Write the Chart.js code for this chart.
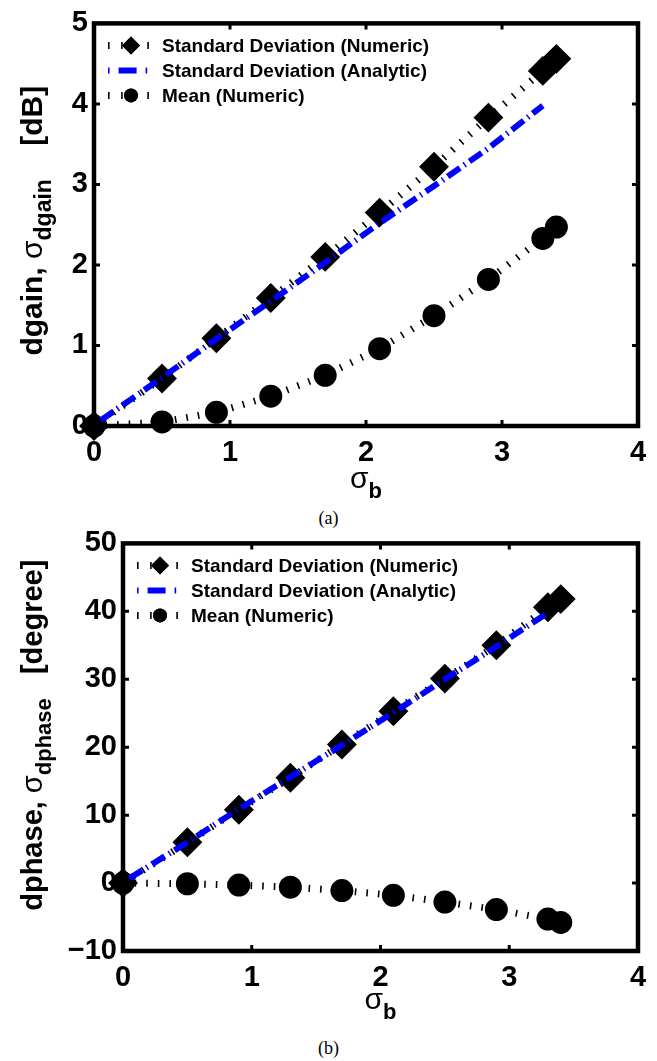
<!DOCTYPE html>
<html>
<head>
<meta charset="utf-8">
<script src="https://cdn.jsdelivr.net/npm/chart.js@4.4.1/dist/chart.umd.min.js"></script>
<style>
  body { margin: 0; background: #fff; width: 657px; height: 1061px; position: relative; overflow: hidden; }
  .panel { position: absolute; left: 0; width: 657px; height: 505px; }
  .cap { position: absolute; left: 0; width: 657px; text-align: center;
         font-family: "Liberation Serif", "Times New Roman", serif; font-size: 18px; line-height: 20px; }
</style>
</head>
<body>
<div class="panel" style="top:0"><canvas id="gainChart"></canvas></div>
<div class="cap" style="top:508px">(a)</div>
<div class="panel" style="top:520px"><canvas id="phaseChart"></canvas></div>
<div class="cap" style="top:1038px">(b)</div>
<script>
// sigma_b sample points
const sigmaB = [0, 0.5, 0.9, 1.3, 1.7, 2.1, 2.5, 2.9, 3.3, 3.4];
const sigmaBAnalytic = [0.05, 0.5, 0.9, 1.3, 1.7, 2.1, 2.5, 2.9, 3.3];

// (a) gain [dB]
const gainStdNumeric = [0, 0.59, 1.09, 1.59, 2.1, 2.65, 3.22, 3.83, 4.41, 4.56];
const gainStdAnalytic = [0.07, 0.6, 1.08, 1.55, 2.03, 2.52, 2.98, 3.45, 3.98];
const gainMean = [0, 0.05, 0.17, 0.37, 0.63, 0.96, 1.37, 1.82, 2.33, 2.47];

// (b) phase [degree]
const phaseStdNumeric = [0, 6.0, 10.8, 15.5, 20.4, 25.3, 30.1, 35.0, 40.6, 41.8];
const phaseStdAnalytic = [0.7, 6.0, 10.9, 15.6, 20.3, 25.1, 30.0, 34.8, 39.8];
const phaseMean = [0, -0.1, -0.3, -0.6, -1.1, -1.8, -2.8, -3.9, -5.3, -5.8];

const seriesLabels = ['Standard Deviation (Numeric)', 'Standard Deviation (Analytic)', 'Mean (Numeric)'];
const xTicks = [0, 1, 2, 3, 4];

const FONT = '"Liberation Sans", Arial, Helvetica, sans-serif';

function pts(xs, ys) {
  return xs.map((x, i) => ({ x: x, y: ys[i] }));
}

// frame, inner ticks, legend and axis titles, MATLAB style
const matlabLook = {
  id: 'matlabLook',
  beforeDatasetsDraw(chart) {
    const { ctx, chartArea: a, scales } = chart;
    ctx.save();
    ctx.strokeStyle = '#000';
    ctx.lineWidth = 3;
    scales.x.ticks.forEach(t => {
      const px = scales.x.getPixelForValue(t.value);
      ctx.beginPath();
      ctx.moveTo(px, a.bottom); ctx.lineTo(px, a.bottom - 6);
      ctx.moveTo(px, a.top); ctx.lineTo(px, a.top + 6);
      ctx.stroke();
    });
    scales.y.ticks.forEach(t => {
      const py = scales.y.getPixelForValue(t.value);
      ctx.beginPath();
      ctx.moveTo(a.left, py); ctx.lineTo(a.left + 6, py);
      ctx.moveTo(a.right, py); ctx.lineTo(a.right - 6, py);
      ctx.stroke();
    });
    ctx.lineWidth = 4.5;
    ctx.strokeRect(a.left, a.top, a.right - a.left, a.bottom - a.top);
    ctx.restore();
  },
  afterDraw(chart, args, opts) {
    const { ctx, chartArea: a } = chart;
    ctx.save();
    // legend
    chart.data.datasets.forEach((ds, i) => {
      const y = a.top + 22 + i * 25;
      const x0 = a.left + 14, x1 = a.left + 56, xm = a.left + 37;
      ctx.strokeStyle = ds.borderColor;
      ctx.lineWidth = ds.legendWidth;
      ctx.setLineDash(ds.legendDash);
      ctx.beginPath(); ctx.moveTo(x0, y); ctx.lineTo(x1, y); ctx.stroke();
      ctx.setLineDash([]);
      if (ds.pointRadius > 0) {
        ctx.fillStyle = '#000';
        Chart.helpers.drawPoint(ctx, { pointStyle: ds.pointStyle, radius: ds.pointRadius - 1, rotation: 0 }, xm, y);
        ctx.fill();
      }
      ctx.fillStyle = '#000';
      ctx.font = 'bold 19px ' + FONT;
      ctx.textBaseline = 'middle';
      ctx.textAlign = 'left';
      ctx.fillText(ds.label, a.left + 68, y + 1);
    });

    // y title with subscript
    const parts = opts.yTitle;
    ctx.translate(opts.yTitleX, (a.top + a.bottom) / 2 + opts.yTitleShift);
    ctx.rotate(-Math.PI / 2);
    let total = 0;
    parts.forEach(p => { ctx.font = p.f + ' ' + FONT; p.w = ctx.measureText(p.t).width; total += p.w; });
    let cx = -total / 2;
    ctx.textAlign = 'left';
    ctx.textBaseline = 'alphabetic';
    parts.forEach(p => {
      ctx.font = p.f + ' ' + FONT;
      ctx.fillText(p.t, cx, p.dy);
      cx += p.w;
    });
    ctx.setTransform(1, 0, 0, 1, 0, 0);

    // x title sigma_b
    const mid = (a.left + a.right) / 2;
    ctx.font = '30px ' + FONT;
    const sw = ctx.measureText('σ').width;
    ctx.font = 'bold 22px ' + FONT;
    const bw = ctx.measureText('b').width;
    const sx = mid - (sw + bw) / 2;
    ctx.font = '30px ' + FONT;
    ctx.fillText('σ', sx, opts.xTitleY);
    ctx.font = 'bold 22px ' + FONT;
    ctx.fillText('b', sx + sw, opts.xTitleY + 10);
    ctx.restore();
  }
};

function makeChart(id, stdNum, stdAna, mean, yMin, yMax, yStep, padTop, xHeight, titleOpts) {
  const ctx = document.getElementById(id).getContext('2d');
  return new Chart(ctx, {
    type: 'line',
    data: {
      datasets: [{
        label: seriesLabels[0],
        data: pts(sigmaB, stdNum),
        borderColor: '#000',
        backgroundColor: '#000',
        borderWidth: 7,
        borderDash: [1.6, 10],
        legendDash: [1.6, 11.5],
        legendWidth: 7,
        pointStyle: 'rectRot',
        pointRadius: 10,
        order: 1
      }, {
        label: seriesLabels[1],
        data: pts(sigmaBAnalytic, stdAna),
        borderColor: '#0000ff',
        backgroundColor: '#0000ff',
        borderWidth: 6,
        borderDash: [15, 5, 1.5, 5],
        legendDash: [1.6, 9, 18, 9],
        legendWidth: 6,
        pointRadius: 0,
        order: 0
      }, {
        label: seriesLabels[2],
        data: pts(sigmaB, mean),
        borderColor: '#000',
        backgroundColor: '#000',
        borderWidth: 7,
        borderDash: [1.6, 10],
        legendDash: [1.6, 11.5],
        legendWidth: 7,
        pointStyle: 'circle',
        pointRadius: 8,
        order: 2
      }]
    },
    options: {
      responsive: true,
      maintainAspectRatio: false,
      animation: false,
      clip: false,
      layout: { padding: { top: padTop, right: 19, left: 0, bottom: 0 } },
      elements: { line: { tension: 0, borderCapStyle: 'butt', fill: false } },
      plugins: {
        legend: { display: false },
        tooltip: { enabled: false },
        matlabLook: titleOpts
      },
      scales: {
        x: {
          type: 'linear',
          min: 0, max: 4,
          afterBuildTicks: s => { s.ticks = xTicks.map(v => ({ value: v })); },
          grid: { display: false, drawTicks: false },
          border: { display: false },
          ticks: { color: '#000', padding: 10, font: { family: FONT, size: 29, weight: 'bold' } },
          afterFit: s => { s.height = xHeight; }
        },
        y: {
          min: yMin, max: yMax,
          grid: { display: false, drawTicks: false },
          border: { display: false },
          ticks: {
            stepSize: yStep,
            color: '#000', padding: 6,
            font: { family: FONT, size: 29, weight: 'bold' },
            callback: v => v < 0 ? '\u2212' + Math.abs(v) : String(v)
          },
          afterFit: s => { s.width = titleOpts.yAxisWidth; }
        }
      }
    },
    plugins: [matlabLook]
  });
}

makeChart('gainChart', gainStdNumeric, gainStdAnalytic, gainMean, 0, 5, 1, 20, 79, {
  yAxisWidth: 94,
  yTitleX: 42,
  yTitleShift: -4,
  xTitleY: 488,
  yTitle: [
    { t: 'dgain, ', f: 'bold 30px', dy: 0 },
    { t: 'σ', f: '30px', dy: 0 },
    { t: 'dgain', f: 'bold 23px', dy: 9 },
    { t: '    [dB]', f: 'bold 30px', dy: 0 }
  ]
});

makeChart('phaseChart', phaseStdNumeric, phaseStdAnalytic, phaseMean, -10, 50, 10, 22, 74, {
  yAxisWidth: 123,
  yTitleX: 42,
  yTitleShift: -12,
  xTitleY: 489,
  yTitle: [
    { t: 'dphase, ', f: 'bold 29px', dy: 0 },
    { t: 'σ', f: '29px', dy: 0 },
    { t: 'dphase', f: 'bold 22px', dy: 9 },
    { t: '   [degree]', f: 'bold 29px', dy: 0 }
  ]
});
</script>
</body>
</html>
